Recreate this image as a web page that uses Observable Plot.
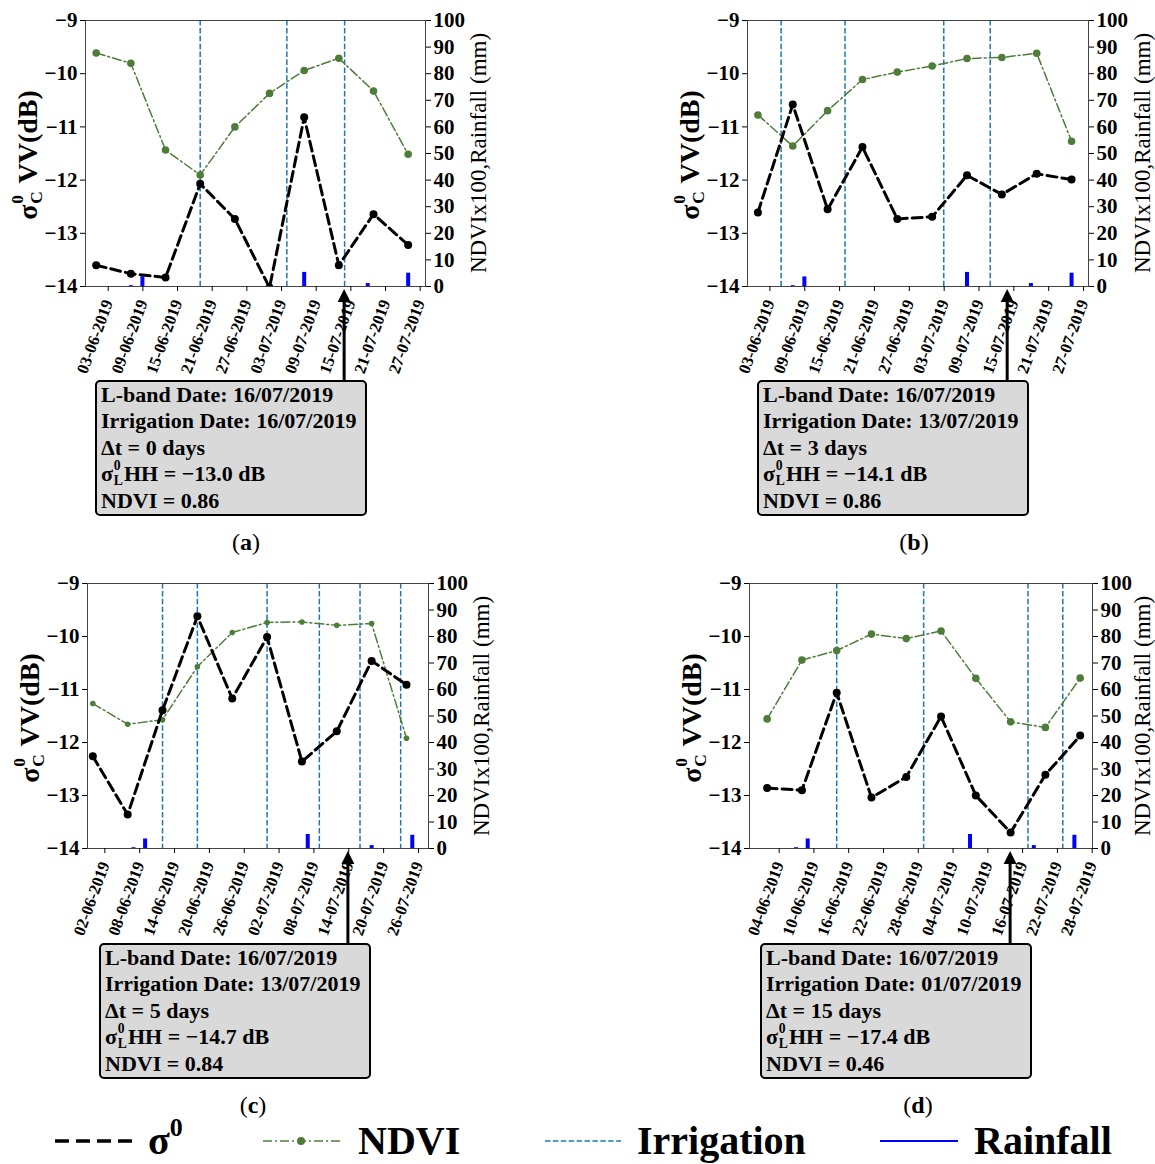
<!DOCTYPE html>
<html><head><meta charset="utf-8">
<script src="https://cdn.jsdelivr.net/npm/d3@7"></script>
<script src="https://cdn.jsdelivr.net/npm/@observablehq/plot@0.6"></script>
<style>
body{margin:0;background:#fff}
#root{position:relative;width:1155px;height:1164px;overflow:hidden;font-family:"Liberation Serif",serif;color:#000;background:#fff}
.panel{position:absolute}
.ylab{position:absolute;white-space:nowrap;transform:translate(-50%,-50%) rotate(-90deg);font-weight:bold;font-size:28px;line-height:1}
.rlab{position:absolute;white-space:nowrap;transform:translate(-50%,-50%) rotate(-90deg);font-size:23px;line-height:1}
.ss{display:inline-block;position:relative;width:0.5em;height:0}
.ss span{position:absolute;left:0.05em;font-size:0.62em;line-height:1}
.ss .sp{top:-1.62em}
.ss .sb{top:-0.52em}
.box{position:absolute;box-sizing:border-box;width:272px;height:136px;border:2px solid #000;border-radius:5px;background:#d9d9d9;font-weight:bold;font-size:22px;padding:0 0 0 4px}
.box div{height:26.4px;line-height:26.4px;white-space:nowrap}
.plab{position:absolute;font-size:24px;transform:translate(-50%,-100%);white-space:nowrap}
svg.ov{position:absolute;left:0;top:0}
</style></head>
<body><div id="root"></div>
<script>
// ---- data ----
const datesAB = ["2019-06-03","2019-06-09","2019-06-15","2019-06-21","2019-06-27","2019-07-03","2019-07-09","2019-07-15","2019-07-21","2019-07-27"];
const datesC  = ["2019-06-02","2019-06-08","2019-06-14","2019-06-20","2019-06-26","2019-07-02","2019-07-08","2019-07-14","2019-07-20","2019-07-26"];
const datesD  = ["2019-06-04","2019-06-10","2019-06-16","2019-06-22","2019-06-28","2019-07-04","2019-07-10","2019-07-16","2019-07-22","2019-07-28"];

const sigmaA = [-13.60,-13.76,-13.83,-12.07,-12.73,-14.02,-10.82,-13.60,-12.64,-13.22];
const ndviA  = [0.878,0.839,0.513,0.419,0.600,0.726,0.812,0.858,0.735,0.497];
const irrigationA = ["2019-06-21","2019-07-06","2019-07-16"];

const sigmaB = [-12.61,-10.58,-12.55,-11.38,-12.73,-12.69,-11.91,-12.27,-11.88,-11.99];
const ndviB  = [0.645,0.528,0.661,0.778,0.806,0.829,0.857,0.861,0.877,0.546];
const irrigationB = ["2019-06-07","2019-06-18","2019-07-05","2019-07-13"];

const sigmaC = [-12.26,-13.36,-11.39,-9.62,-11.17,-10.01,-12.36,-11.79,-10.46,-10.91];
const ndviC  = [0.547,0.469,0.486,0.686,0.815,0.853,0.855,0.842,0.849,0.416];
const irrigationC = ["2019-06-14","2019-06-20","2019-07-02","2019-07-11","2019-07-18","2019-07-25"];

const sigmaD = [-12.86,-12.90,-11.06,-13.04,-12.65,-11.51,-13.00,-13.70,-12.61,-11.87];
const ndviD  = [0.489,0.711,0.747,0.809,0.792,0.821,0.642,0.478,0.457,0.643];
const irrigationD = ["2019-06-16","2019-07-01","2019-07-19","2019-07-25"];

const rainDates = ["2019-06-09","2019-06-11","2019-07-09","2019-07-20","2019-07-27"];
const rainMm    = [0.3,3.6,5.3,1.1,5.0];

const lbandDate = "2019-07-16";
const irrigationDates = ["16/07/2019","13/07/2019","13/07/2019","01/07/2019"];
const deltaDays = [0,3,5,15];
const sigmaL = ["−13.0","−14.1","−14.7","−17.4"];
const ndviAtL = ["0.86","0.86","0.84","0.46"];
const panelIds = ["a","b","c","d"];

const yTicks = [-14,-13,-12,-11,-10,-9];
const rTicks = [0,10,20,30,40,50,60,70,80,90,100];

// ---- layout ----
const layout = [
  {left:85, top:20, w:340, h:266, domain:["2019-06-01T03:30Z","2019-07-30T00:00Z"], box:[95,380], lab:[246,550], rl:478, r:3.8},
  {left:747,top:20, w:341, h:266, domain:["2019-06-01T05:00Z","2019-07-29T22:00Z"], box:[757,380], lab:[914,550], rl:1142, r:3.8},
  {left:87, top:583,w:341, h:265, domain:["2019-06-01T02:00Z","2019-07-29T19:00Z"], box:[99,943], lab:[253,1113], rl:481, r:2.8},
  {left:749,top:583,w:343, h:265, domain:["2019-05-31T23:00Z","2019-07-30T03:00Z"], box:[760,943], lab:[918,1113], rl:1142, r:3.8}
];
const panelData = [
  {dates:datesAB, sigma:sigmaA, ndvi:ndviA, irr:irrigationA},
  {dates:datesAB, sigma:sigmaB, ndvi:ndviB, irr:irrigationB},
  {dates:datesC,  sigma:sigmaC, ndvi:ndviC, irr:irrigationC},
  {dates:datesD,  sigma:sigmaD, ndvi:ndviD, irr:irrigationD}
];

const green = "#4e7d3a", irrBlue = "#1f77b4";
const parse = s => new Date(s + "T00:00Z");
const rain = rainDates.map((d,i) => ({date: parse(d), mm: rainMm[i]}));
const right2y = v => -14 + v / 20;   // right axis (0..100) -> left axis (-14..-9)
const minus = d => d < 0 ? "\u2212" + Math.abs(d) : String(d);

const root = document.getElementById("root");
const ov = document.createElementNS("http://www.w3.org/2000/svg","svg");
ov.setAttribute("class","ov"); ov.setAttribute("width",1155); ov.setAttribute("height",1164);

const mL=60, mT=16, mR=70, mB=90;
const ss = (a,b) => `<span class="ss"><span class="sp">${a}</span><span class="sb">${b}</span></span>`;

panelData.forEach((p, i) => {
  const L = layout[i];
  const ser = p.dates.map((d,k) => ({date: parse(d), sigma: p.sigma[k], ndvi: p.ndvi[k]}));
  const irr = p.irr.map(parse);
  const chart = Plot.plot({
    width: mL + L.w + mR, height: mT + L.h + mB,
    marginLeft: mL, marginRight: mR, marginTop: mT, marginBottom: mB,
    x: {type:"utc", domain: L.domain.map(s => new Date(s))},
    y: {domain:[-14,-9]},
    style: {fontFamily:"'Liberation Serif', serif", fontWeight:"bold", fontSize:"21px", color:"#000", background:"transparent", overflow:"visible"},
    marks: [
      Plot.ruleX(rain, {x:"date", y1:-14, y2: d => right2y(d.mm), stroke:"#0000ff", strokeWidth:4}),
      Plot.ruleX(irr, {x: d => d, stroke: irrBlue, strokeWidth:1.5, strokeDasharray:"5.5,2.4"}),
      Plot.line(ser, {x:"date", y: d => right2y(d.ndvi*100), stroke: green, strokeWidth:1.5, strokeDasharray:"9,3,2,3", clip:true}),
      Plot.dot(ser, {x:"date", y: d => right2y(d.ndvi*100), fill: green, r: L.r, clip:true}),
      Plot.line(ser, {x:"date", y:"sigma", stroke:"#000", strokeWidth:3, strokeDasharray:"10,5", clip:true}),
      Plot.dot(ser, {x:"date", y:"sigma", fill:"#000", r:4, clip:true}),
      Plot.frame({stroke:"#444"}),
      Plot.axisY({ticks: yTicks, tickFormat: minus, tickSize:5, tickPadding:3, label:null}),
      Plot.axisY({anchor:"right", ticks: rTicks.map(right2y), tickFormat: d => String(Math.round((d+14)*20)), tickSize:5, tickPadding:3, label:null}),
      Plot.axisX({ticks: ser.map(d => d.date), tickFormat: d3.utcFormat("%d-%m-%Y"), tickRotate:-70, tickSize:5, tickPadding:9, fontSize:16.5, dx:12, label:null})
    ]
  });
  chart.classList.add("panel");
  chart.style.left = (L.left - mL) + "px";
  chart.style.top = (L.top - mT) + "px";
  root.appendChild(chart);

  // axis titles
  const yl = document.createElement("div");
  yl.className = "ylab";
  yl.innerHTML = `σ${ss("0","C")} VV(dB)`;
  yl.style.left = (L.left - 57) + "px"; yl.style.top = (L.top + L.h/2 + 2) + "px";
  root.appendChild(yl);
  const rl = document.createElement("div");
  rl.className = "rlab";
  rl.textContent = "NDVIx100,Rainfall (mm)";
  rl.style.left = L.rl + "px"; rl.style.top = (L.top + L.h/2) + "px";
  root.appendChild(rl);

  // annotation box
  const box = document.createElement("div");
  box.className = "box";
  box.style.left = L.box[0] + "px"; box.style.top = L.box[1] + "px";
  box.innerHTML = `<div>L-band Date: ${lbandDate.split("-").reverse().join("/")}</div>
    <div>Irrigation Date: ${irrigationDates[i]}</div>
    <div>Δt = ${deltaDays[i]} days</div>
    <div>σ${ss("0","L")}HH = ${sigmaL[i]} dB</div>
    <div>NDVI = ${ndviAtL[i]}</div>`;
  root.appendChild(box);

  // arrow from box to L-band date on axis
  const ax = L.left - mL + chart.scale("x").apply(parse(lbandDate));
  const yTip = L.top + L.h + 3, yBase = L.box[1];
  const g = document.createElementNS("http://www.w3.org/2000/svg","g");
  g.innerHTML = `<line x1="${ax}" x2="${ax}" y1="${yBase}" y2="${yTip+8}" stroke="#000" stroke-width="3"/>
    <path d="M${ax},${yTip} L${ax-6.5},${yTip+13} L${ax+6.5},${yTip+13} Z" fill="#000"/>`;
  ov.appendChild(g);

  // panel label
  const pl = document.createElement("div");
  pl.className = "plab";
  pl.innerHTML = `(<b>${panelIds[i]}</b>)`;
  pl.style.left = L.lab[0] + "px"; pl.style.top = (L.lab[1] + 6) + "px";
  root.appendChild(pl);
});

// legend
const lg = document.createElementNS("http://www.w3.org/2000/svg","g");
lg.innerHTML = `
 <line x1="55" x2="135" y1="1141" y2="1141" stroke="#000" stroke-width="3.5" stroke-dasharray="14,7"/>
 <text x="148" y="1154" font-size="40" font-weight="bold" font-family="Liberation Serif">σ<tspan font-size="26" dy="-18">0</tspan></text>
 <line x1="263" x2="340" y1="1141" y2="1141" stroke="${green}" stroke-width="1.5" stroke-dasharray="9,3,2,3"/>
 <circle cx="301" cy="1141" r="4" fill="${green}"/>
 <text x="358" y="1154" font-size="40" font-weight="bold" font-family="Liberation Serif">NDVI</text>
 <line x1="545" x2="621" y1="1141" y2="1141" stroke="${irrBlue}" stroke-width="1.5" stroke-dasharray="5.5,2.4"/>
 <text x="637" y="1154" font-size="40" font-weight="bold" font-family="Liberation Serif">Irrigation</text>
 <line x1="880" x2="958" y1="1141" y2="1141" stroke="#0000ff" stroke-width="2"/>
 <text x="974" y="1154" font-size="40" font-weight="bold" font-family="Liberation Serif">Rainfall</text>`;
ov.appendChild(lg);
root.appendChild(ov);
</script>
</body></html>
